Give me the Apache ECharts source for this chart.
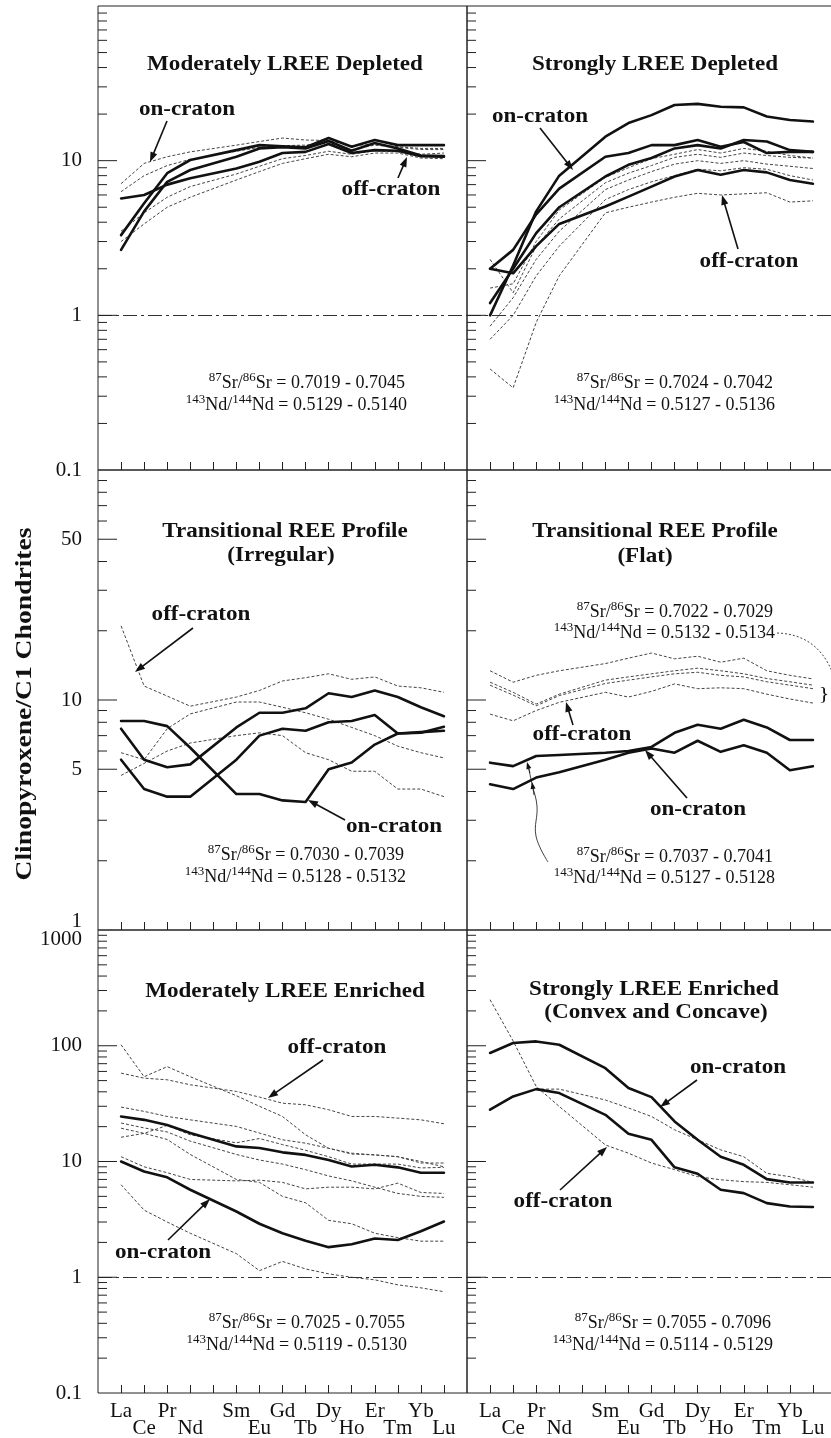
<!DOCTYPE html>
<html><head><meta charset="utf-8">
<script src="https://cdn.jsdelivr.net/npm/echarts@6/dist/echarts.min.js"></script>
<style>html,body{margin:0;padding:0;background:#fff}#c{width:831px;height:1438px}</style>
</head><body><div id="c"></div>
<script>
// ---------- categories / tick labels ----------
const REE = ['La','Ce','Pr','Nd','Sm','Eu','Gd','Tb','Dy','Ho','Er','Tm','Yb','Lu'];
const axisCategories = ['', 'La','Ce','Pr','Nd', '', 'Sm','Eu','Gd','Tb','Dy','Ho','Er','Tm','Yb','Lu', ''];
const upperRowLabels = ['La','Pr','Sm','Gd','Dy','Er','Yb'];
const yLabelsTop = [10, 1, 0.1];
const yLabelsMiddle = [50, 10, 5, 1];
const yLabelsBottom = [1000, 100, 10, 1, 0.1];

// ---------- Panel 1: Moderately LREE Depleted ----------
const modDepThick1 = [2.65, 4.7, 7.3, 8.7, 10.6, 12.0, 12.2, 12.0, 13.4, 11.6, 13.0, 12.0, 10.8, 10.7];
const modDepThick2 = [3.3, 5.3, 8.3, 10.1, 11.7, 12.6, 12.4, 12.2, 14.0, 12.3, 13.6, 12.6, 12.6, 12.6];
const modDepThick3 = [5.7, 6.0, 7.0, 7.7, 8.9, 9.85, 11.2, 11.4, 12.8, 11.2, 11.7, 11.6, 10.7, 10.6];
const modDepDot1 = [7.1, 9.6, 10.6, 11.4, 12.6, 13.3, 14.0, 13.6, 13.5, 12.5, 12.8, 12.3, 12.0, 12.0];
const modDepDot2 = [6.3, 8.0, 9.3, 10.2, 11.5, 12.2, 12.5, 12.6, 13.0, 11.8, 12.6, 12.2, 11.8, 11.8];
const modDepDot3 = [3.0, 3.9, 5.0, 5.8, 7.5, 8.5, 9.6, 10.3, 11.0, 10.6, 11.2, 11.2, 10.4, 10.3];
const modDepDot4 = [3.5, 4.6, 5.8, 6.8, 8.2, 9.2, 10.3, 10.8, 11.5, 11.0, 11.6, 11.4, 11.0, 11.2];

// ---------- Panel 2: Strongly LREE Depleted ----------
const strDepThick1 = [1.0, 2.1, 4.7, 8.0, 14.3, 17.5, 19.7, 22.9, 23.3, 22.3, 22.1, 19.3, 18.3, 17.9];
const strDepThick2 = [2.0, 2.65, 4.5, 6.6, 10.6, 11.2, 12.6, 12.6, 13.6, 12.3, 13.2, 11.2, 11.4, 11.4];
const strDepThick3 = [1.2, 2.0, 3.4, 5.0, 7.9, 9.4, 10.4, 12.0, 12.6, 12.0, 13.6, 13.3, 11.7, 11.4];
const strDepThick4 = [2.0, 1.87, 2.8, 3.9, 5.05, 5.85, 6.8, 7.9, 8.7, 8.1, 8.7, 8.4, 7.5, 7.1];
const strDepDot1 = [0.45, 0.34, 0.9, 1.8, 4.6, 5.0, 5.4, 5.8, 6.15, 6.0, 6.1, 6.2, 5.4, 5.5];
const strDepDot2 = [0.7, 1.0, 1.8, 2.8, 5.6, 6.5, 7.3, 8.0, 8.8, 8.6, 9.0, 8.8, 8.0, 7.5];
const strDepDot3 = [0.85, 1.3, 2.3, 3.5, 6.5, 7.5, 8.5, 9.5, 10.0, 9.6, 10.0, 9.5, 9.2, 8.9];
const strDepDot4 = [2.3, 1.4, 2.8, 4.2, 7.2, 8.3, 9.3, 10.5, 11.0, 10.5, 11.2, 10.8, 10.5, 10.4];
const strDepDot5 = [1.5, 1.6, 3.0, 4.8, 7.8, 9.0, 10.3, 11.0, 11.8, 11.2, 12.0, 11.5, 10.8, 10.4];

// ---------- Panel 3: Transitional (Irregular) ----------
const irrThick1 = [8.1, 8.1, 7.7, 6.2, 3.9, 3.9, 3.66, 3.6, 5.0, 5.35, 6.4, 7.15, 7.25, 7.35];
const irrThick2 = [7.5, 5.5, 5.1, 5.25, 7.6, 8.8, 8.8, 9.2, 10.7, 10.3, 11.0, 10.3, 9.3, 8.5];
const irrThick3 = [5.5, 4.1, 3.8, 3.8, 5.5, 7.0, 7.5, 7.35, 8.0, 8.1, 8.6, 7.15, 7.2, 7.65];
const irrDot1 = [21.0, 11.5, 10.4, 9.4, 10.3, 11.0, 12.1, 12.5, 13.0, 12.3, 12.6, 11.5, 11.3, 10.8];
const irrDot2 = [5.9, 5.5, 7.5, 8.7, 9.8, 9.8, 9.3, 8.8, 8.25, 7.6, 7.0, 6.3, 5.9, 5.6];
const irrDot3 = [4.7, 5.3, 6.0, 6.5, 7.0, 7.2, 7.0, 5.9, 5.5, 4.9, 4.9, 4.1, 4.1, 3.8];

// ---------- Panel 4: Transitional (Flat) ----------
const flatThick1 = [5.34, 5.16, 5.71, 5.77, 5.9, 6.0, 6.25, 7.2, 7.8, 7.5, 8.2, 7.6, 6.7, 6.7];
const flatThick2 = [4.3, 4.1, 4.6, 4.85, 5.5, 5.9, 6.15, 5.9, 6.65, 5.95, 6.35, 5.9, 4.95, 5.15];
const flatDot1 = [13.4, 11.95, 12.8, 13.4, 14.4, 15.2, 16.0, 15.1, 15.5, 14.6, 15.2, 13.4, 12.8, 12.35];
const flatDot2 = [11.95, 10.8, 9.6, 10.6, 12.2, 12.6, 13.0, 13.4, 13.75, 13.4, 13.0, 12.4, 12.0, 11.6];
const flatDot3 = [11.6, 10.5, 9.44, 10.45, 11.8, 12.2, 12.6, 13.0, 13.2, 12.8, 12.6, 12.0, 11.6, 11.2];
const flatDot4 = [8.68, 8.12, 9.0, 9.77, 10.8, 10.3, 10.9, 11.75, 11.2, 11.3, 11.2, 10.6, 10.1, 9.7];

// ---------- Panel 5: Moderately LREE Enriched ----------
const modEnrThick1 = [24.5, 22.9, 20.7, 17.6, 13.5, 13.1, 12.0, 11.4, 10.3, 9.05, 9.36, 8.9, 8.0, 8.0];
const modEnrThick2 = [10.0, 8.2, 7.3, 5.7, 3.7, 2.9, 2.4, 2.07, 1.82, 1.93, 2.16, 2.1, 2.5, 3.03];
const modEnrDot1 = [102, 54, 66, 54, 37, 30, 24.5, 17, 13, 11.6, 11.4, 11.0, 9.7, 9.7];
const modEnrDot2 = [58, 52.5, 50.8, 46, 40.3, 36, 31.9, 30.9, 28, 24.5, 24.5, 23.7, 22.9, 21.2];
const modEnrDot3 = [29.5, 27.1, 24.5, 22.9, 20.1, 17.6, 15.4, 14.4, 13.0, 11.8, 11.4, 11.0, 10.0, 9.0];
const modEnrDot4 = [21.5, 19.5, 18, 15, 11.5, 10.3, 9.5, 8.5, 7.5, 6.8, 6.0, 5.3, 5.0, 4.9];
const modEnrDot5 = [16.2, 17.5, 20.5, 17.0, 14.5, 15.8, 14.0, 12.5, 11.0, 9.5, 9.5, 9.5, 8.8, 8.9];
const modEnrDot6 = [19.4, 17.5, 15.5, 11.5, 7.0, 6.6, 5.0, 4.4, 3.1, 2.9, 2.4, 2.2, 2.05, 2.05];
const modEnrDot7 = [11.0, 9.0, 8.0, 7.0, 6.8, 6.9, 6.6, 5.8, 6.0, 6.0, 5.8, 6.5, 5.4, 5.3];
const modEnrDot8 = [6.3, 3.8, 3.0, 2.4, 1.6, 1.14, 1.37, 1.18, 1.07, 1.0, 0.95, 0.86, 0.81, 0.75];

// ---------- Panel 6: Strongly LREE Enriched ----------
const strEnrThick1 = [86.6, 105.7, 109, 102, 64, 43.1, 36, 22.2, 15.4, 11.0, 9.36, 7.04, 6.59, 6.59];
const strEnrThick2 = [28, 36.5, 42.2, 39, 25.3, 17.4, 15.4, 8.9, 7.83, 5.7, 5.33, 4.37, 4.09, 4.05];
const strEnrDot1 = [250, 110, 44.5, 29.9, 13.9, 11.8, 9.7, 8.5, 7.4, 6.95, 6.7, 6.6, 6.3, 6.0];
const strEnrDot2 = [null, null, 42.2, 42.2, 34, 29, 24.5, 18.8, 15.4, 12.6, 11.0, 7.9, 7.4, 6.6];

// ---------- isotope ranges ----------
const srRanges = ['0.7019 - 0.7045', '0.7024 - 0.7042', '0.7030 - 0.7039', '0.7022 - 0.7029', '0.7037 - 0.7041', '0.7025 - 0.7055', '0.7055 - 0.7096'];
const ndRanges = ['0.5129 - 0.5140', '0.5127 - 0.5136', '0.5128 - 0.5132', '0.5132 - 0.5134', '0.5127 - 0.5128', '0.5119 - 0.5130', '0.5114 - 0.5129'];

const panels = [
  {yMin: 0.1, yMax: 100, unity: true, labels: yLabelsTop, thick: [modDepThick1, modDepThick2, modDepThick3], dotted: [modDepDot1, modDepDot2, modDepDot3, modDepDot4]},
  {yMin: 0.1, yMax: 100, unity: true, labels: null, thick: [strDepThick1, strDepThick2, strDepThick3, strDepThick4], dotted: [strDepDot1, strDepDot2, strDepDot3, strDepDot4, strDepDot5]},
  {yMin: 1, yMax: 100, unity: false, labels: yLabelsMiddle, thick: [irrThick1, irrThick2, irrThick3], dotted: [irrDot1, irrDot2, irrDot3]},
  {yMin: 1, yMax: 100, unity: false, labels: null, thick: [flatThick1, flatThick2], dotted: [flatDot1, flatDot2, flatDot3, flatDot4]},
  {yMin: 0.1, yMax: 1000, unity: true, labels: yLabelsBottom, thick: [modEnrThick1, modEnrThick2], dotted: [modEnrDot1, modEnrDot2, modEnrDot3, modEnrDot4, modEnrDot5, modEnrDot6, modEnrDot7, modEnrDot8]},
  {yMin: 0.1, yMax: 1000, unity: true, labels: null, thick: [strEnrThick1, strEnrThick2], dotted: [strEnrDot1, strEnrDot2]}
];
const labelLongSet = [[10,1], [10,1], [50,10,5], [50,10,5], [1000,100,10,1], [1000,100,10,1]];

// ---------- layout ----------
const FONT = '"Liberation Serif", "Times New Roman", serif';
const INK = '#111';
const gridLeft = [98, 467];
const gridWidth = 369;
const gridTop = [6, 470, 930];
const gridHeight = [464, 460, 463];

function toFull(vals) {
  return [null, vals[0], vals[1], vals[2], vals[3], null].concat(vals.slice(4)).concat([null]);
}

const grids = [], xAxes = [], yAxes = [], series = [];
panels.forEach((p, i) => {
  const row = Math.floor(i / 2), col = i % 2;
  grids.push({left: gridLeft[col], top: gridTop[row], width: gridWidth, height: gridHeight[row],
    outerBoundsMode: 'none', containLabel: false,
    show: true, borderColor: '#222', borderWidth: 1, backgroundColor: 'transparent'});
  xAxes.push({
    type: 'category', gridIndex: i, data: axisCategories, boundaryGap: false,
    axisLine: {show: false},
    axisTick: {show: true, inside: true, length: 8, lineStyle: {color: '#222', width: 1},
      interval: (idx) => idx > 0 && idx < axisCategories.length - 1},
    axisLabel: {show: row === 2, interval: 0, margin: 10, color: INK, fontFamily: FONT, fontSize: 21, lineHeight: 17,
      formatter: (v) => v === '' ? '' : (upperRowLabels.indexOf(v) >= 0 ? v : '\n' + v)},
    splitLine: {show: false}
  });
  yAxes.push({
    type: 'log', logBase: 10, gridIndex: i, min: p.yMin, max: p.yMax,
    axisLine: {show: false}, axisTick: {show: false}, axisLabel: {show: false}, splitLine: {show: false}
  });
  // dotted lines
  p.dotted.forEach((d, k) => {
    const s = {type: 'line', xAxisIndex: i, yAxisIndex: i, data: toFull(d), connectNulls: true,
      symbol: 'none', silent: true, z: 2,
      lineStyle: {color: '#444', width: 1, type: [3, 2]}};
    if (k === 0 && p.unity) {
      s.markLine = {silent: true, symbol: ['none', 'none'], label: {show: false},
        lineStyle: {color: '#333', width: 1, type: [14, 4, 3, 4]}, data: [{yAxis: 1}]};
    }
    series.push(s);
  });
  p.thick.forEach((d) => {
    series.push({type: 'line', xAxisIndex: i, yAxisIndex: i, data: toFull(d), connectNulls: true,
      symbol: 'none', silent: true, z: 3,
      lineStyle: {color: INK, width: 2.6, join: 'round', cap: 'round'}});
  });
  // y ticks (log minor + major), drawn through the axis scale
  const longSet = labelLongSet[i];
  const ticks = [];
  for (let d = p.yMin; d < p.yMax * 0.999; d *= 10) {
    for (let k = 1; k <= 9; k++) {
      const v = +(k * d).toPrecision(6);
      if (v <= p.yMin * 1.0001 || v >= p.yMax * 0.9999) continue;
      const isLong = k === 1 || longSet.indexOf(v) >= 0;
      ticks.push([0, v, isLong ? 19 : 9]);
    }
  }
  series.push({type: 'custom', xAxisIndex: i, yAxisIndex: i, data: ticks, silent: true, clip: false, z: 5,
    renderItem: (params, api) => {
      const pt = api.coord([0, api.value(1)]);
      const len = api.value(2);
      return {type: 'line', shape: {x1: pt[0], y1: pt[1], x2: pt[0] + len, y2: pt[1]},
        style: {stroke: '#222', lineWidth: 1}};
    }});
  if (p.labels) {
    const lab = p.labels.map(v => {
      let shift = 0;
      if (row === 1 && v === 1) shift = -9;
      if (row === 2 && v === 1000) shift = 9;
      return [0, v, shift];
    });
    series.push({type: 'custom', xAxisIndex: i, yAxisIndex: i, data: lab, silent: true, clip: false, z: 5,
      renderItem: (params, api) => {
        const v = api.value(1);
        const pt = api.coord([0, v]);
        return {type: 'text', x: pt[0] - 16, y: pt[1] + api.value(2),
          style: {text: String(v), align: 'right', verticalAlign: 'middle', font: '21px ' + FONT, fill: INK}};
      }});
  }
});

// ---------- annotations ----------
const graphics = [];
function bold(text, x, y) {
  graphics.push({type: 'text', x: x, y: y, scaleX: 1.1, z: 20,
    style: {text: text, font: 'bold 21px ' + FONT, fill: INK, align: 'center', verticalAlign: 'middle'}});
}
const richIso = {
  s: {fontSize: 13, lineHeight: 12, verticalAlign: 'top', fontFamily: FONT, fill: INK},
  m: {fontSize: 18, lineHeight: 24, fontFamily: FONT, fill: INK}
};
function iso(idx, x, ySr, yNd) {
  graphics.push({type: 'text', x: x, y: ySr, z: 20,
    style: {text: '{s|87}{m|Sr/}{s|86}{m|Sr = ' + srRanges[idx] + '}', rich: richIso, align: 'right', verticalAlign: 'middle', fill: INK}});
  graphics.push({type: 'text', x: x + 2, y: yNd, z: 20,
    style: {text: '{s|143}{m|Nd/}{s|144}{m|Nd = ' + ndRanges[idx] + '}', rich: richIso, align: 'right', verticalAlign: 'middle', fill: INK}});
}
function arrow(x1, y1, x2, y2, lw, head) {
  lw = lw || 1.6; head = head || 10;
  const dx = x2 - x1, dy = y2 - y1, L = Math.sqrt(dx * dx + dy * dy);
  const ux = dx / L, uy = dy / L, nx = -uy, ny = ux, w = head * 0.36;
  const bx = x2 - ux * head, by = y2 - uy * head;
  graphics.push({type: 'line', z: 20, shape: {x1: x1, y1: y1, x2: bx + ux * 2, y2: by + uy * 2},
    style: {stroke: INK, lineWidth: lw}});
  graphics.push({type: 'polygon', z: 20, shape: {points: [[x2, y2], [bx + nx * w, by + ny * w], [bx - nx * w, by - ny * w]]},
    style: {fill: INK}});
}

// panel 1
bold('Moderately LREE Depleted', 285, 65);
bold('on-craton', 187, 110); arrow(167, 121, 150, 162);
bold('off-craton', 391, 190); arrow(398, 178, 407, 157);
iso(0, 405, 383, 405);
// panel 2
bold('Strongly LREE Depleted', 655, 65);
bold('on-craton', 540, 117); arrow(540, 128, 573, 170);
bold('off-craton', 749, 262); arrow(738, 249, 722, 195);
iso(1, 773, 383, 405);
// panel 3
bold('Transitional REE Profile', 285, 532);
bold('(Irregular)', 281, 556);
bold('off-craton', 201, 615); arrow(193, 628, 135, 672);
bold('on-craton', 394, 827); arrow(345, 820, 308, 800);
iso(2, 404, 855, 877);
// panel 4
bold('Transitional REE Profile', 655, 532);
bold('(Flat)', 645, 557);
iso(3, 773, 612, 633);
bold('off-craton', 582, 735); arrow(573, 725, 566, 702);
bold('on-craton', 698, 810); arrow(687, 798, 645, 750);
iso(4, 773, 857, 878);
graphics.push({type: 'bezierCurve', z: 19, shape: {x1: 777, y1: 633, cpx1: 805, cpy1: 634, cpx2: 828, cpy2: 648, x2: 838, y2: 690},
  style: {stroke: '#444', lineWidth: 1, lineDash: [2, 2], fill: null}});
graphics.push({type: 'text', x: 824, y: 695, z: 20, scaleY: 0.9,
  style: {text: '}', font: '22px ' + FONT, fill: INK, align: 'center', verticalAlign: 'middle'}});
graphics.push({type: 'polyline', z: 19, shape: {points: [[548, 862], [536, 836], [537, 806], [532, 784], [528, 765]], smooth: 0.4},
  style: {stroke: INK, lineWidth: 0.8, fill: null}});
arrow(534, 795, 532, 782, 0.8, 7);
arrow(530, 773, 527, 762, 0.8, 7);
// panel 5
bold('Moderately LREE Enriched', 285, 992);
bold('off-craton', 337, 1048); arrow(323, 1060, 268, 1098);
bold('on-craton', 163, 1253); arrow(168, 1240, 210, 1199);
iso(5, 405, 1323, 1345);
// panel 6
bold('Strongly LREE Enriched', 654, 990);
bold('(Convex and Concave)', 656, 1013);
bold('on-craton', 738, 1068); arrow(697, 1080, 660, 1107);
bold('off-craton', 563, 1202); arrow(560, 1190, 607, 1147);
iso(6, 771, 1323, 1345);
// y axis title
graphics.push({type: 'text', x: 25, y: 704, rotation: Math.PI / 2, scaleX: 1.2, z: 20,
  style: {text: 'Clinopyroxene/C1 Chondrites', font: 'bold 23px ' + FONT, fill: INK, align: 'center', verticalAlign: 'middle'}});

const chart = echarts.init(document.getElementById('c'), null, {renderer: 'canvas'});
chart.setOption({
  backgroundColor: '#fff',
  animation: false,
  grid: grids, xAxis: xAxes, yAxis: yAxes, series: series,
  graphic: graphics
});
</script>
</body></html>
